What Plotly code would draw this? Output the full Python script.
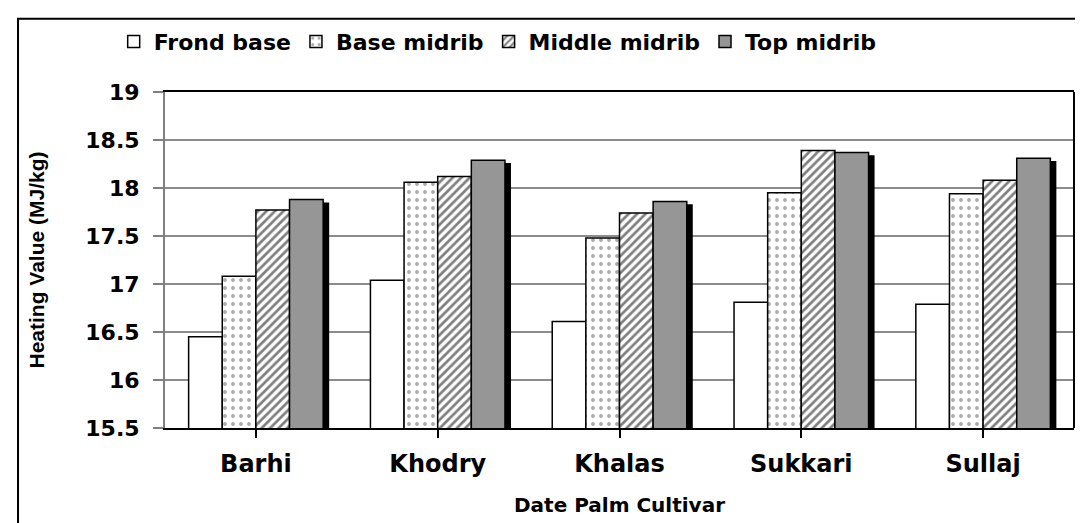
import plotly.graph_objects as go

cultivars = ["Barhi", "Khodry", "Khalas", "Sukkari", "Sullaj"]
frond_base = [16.45, 17.04, 16.61, 16.81, 16.79]
base_midrib = [17.08, 18.06, 17.48, 17.95, 17.94]
middle_midrib = [17.77, 18.12, 17.74, 18.39, 18.08]
top_midrib = [17.88, 18.29, 17.86, 18.37, 18.31]

xpos = list(range(len(cultivars)))
W = 0.185
offs = [-0.37, -0.185, 0.0, 0.185]
line = dict(color="black", width=1.5)
WIDE = "DejaVu Sans, Verdana, sans-serif"

fig = go.Figure()
fig.add_trace(go.Bar(name="Frond base", x=xpos, y=frond_base, width=W, offset=offs[0],
                     marker=dict(color="white", line=line)))
fig.add_trace(go.Bar(name="Base midrib", x=xpos, y=base_midrib, width=W, offset=offs[1],
                     marker=dict(color="white", line=line,
                                 pattern=dict(shape=".", fgcolor="#555555", bgcolor="white",
                                              size=8, solidity=0.18))))
fig.add_trace(go.Bar(name="Middle midrib", x=xpos, y=middle_midrib, width=W, offset=offs[2],
                     marker=dict(color="white", line=line,
                                 pattern=dict(shape="/", fgcolor="black", bgcolor="white",
                                              size=6, solidity=0.45))))
# shadow of top midrib bars
fig.add_trace(go.Bar(name="shadow", x=xpos, y=[v - 0.03 for v in top_midrib], width=W,
                     offset=offs[3] + 0.033, showlegend=False, hoverinfo="skip",
                     marker=dict(color="black", line=dict(width=0))))
fig.add_trace(go.Bar(name="Top midrib", x=xpos, y=top_midrib, width=W, offset=offs[3],
                     marker=dict(color="#969696", line=line)))

fig.update_layout(
    width=1083, height=523,
    barmode="overlay",
    paper_bgcolor="white", plot_bgcolor="white",
    margin=dict(l=157, r=17, t=84, b=103),
    font=dict(family=WIDE, color="black"),
    showlegend=True,
    legend=dict(orientation="h", x=0.366, xanchor="center", y=1.15, yanchor="middle",
                font=dict(size=22, family=WIDE, weight="bold"),
                bgcolor="rgba(0,0,0,0)", tracegroupgap=0, traceorder="normal"),
    xaxis=dict(
        range=[-0.5, 4.5], tickmode="array", tickvals=xpos, ticktext=cultivars,
        showline=True, linecolor="black", linewidth=2, mirror=True,
        ticks="outside", tickson="boundaries", ticklen=8, tickcolor="black", tickwidth=2,
        tickfont=dict(size=24, family=WIDE, weight="bold"), ticklabelstandoff=5,
        showgrid=False, zeroline=False,
        title=dict(text="Date Palm Cultivar", standoff=21,
                   font=dict(size=20, family=WIDE, weight="bold")),
    ),
    yaxis=dict(
        range=[15.5, 19], dtick=0.5, tick0=15.5,
        showline=True, linecolor="#808080", linewidth=2,
        ticks="outside", ticklen=10, tickcolor="#808080", tickwidth=2,
        tickfont=dict(size=22, family=WIDE, weight="bold"), ticklabelstandoff=9,
        showgrid=True, gridcolor="#8c8c8c", gridwidth=2, zeroline=False,
        title=dict(text="Heating Value (MJ/kg)", standoff=35,
                   font=dict(size=21, family="Liberation Sans, Arial, sans-serif",
                             weight="bold")),
    ),
    shapes=[
        dict(type="line", xref="paper", yref="paper", x0=1, x1=1, y0=0, y1=1,
             line=dict(color="black", width=2)),
        dict(type="rect", xref="paper", yref="paper", x0=-0.1617, x1=1.2, y0=-0.5, y1=1.218,
             line=dict(color="black", width=2), layer="above"),
    ],
)

fig.write_html("out.html")
